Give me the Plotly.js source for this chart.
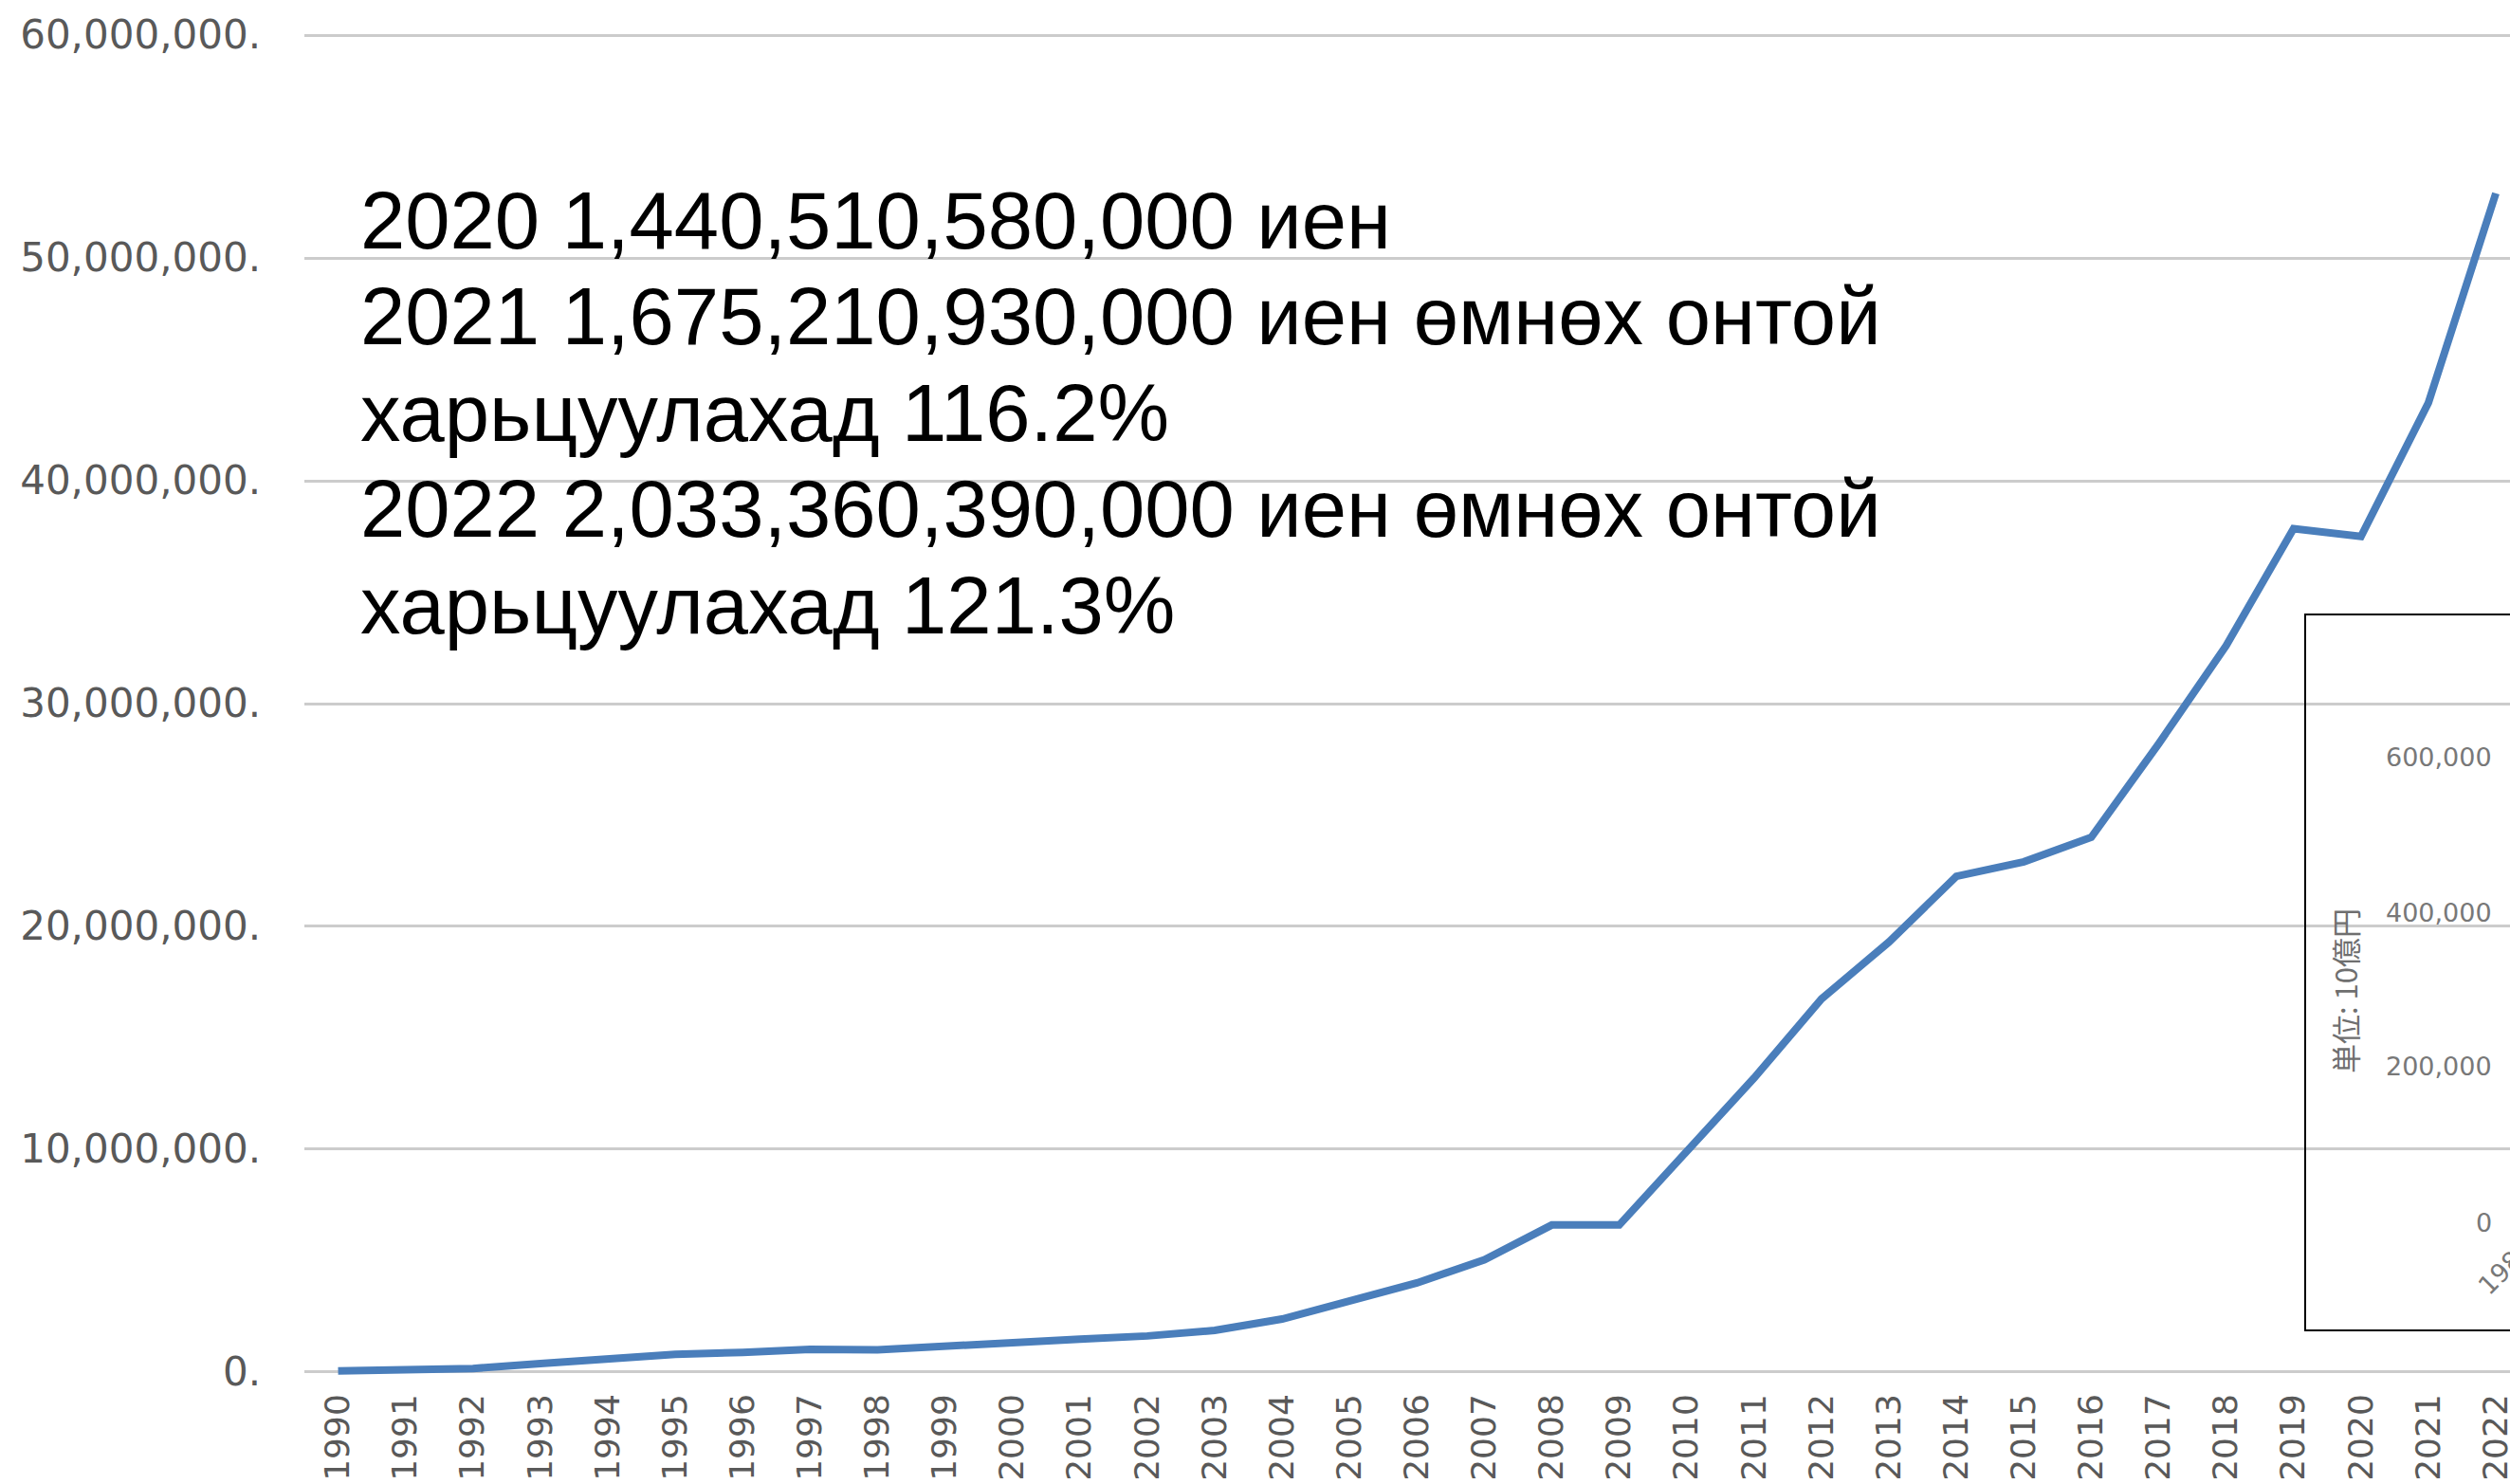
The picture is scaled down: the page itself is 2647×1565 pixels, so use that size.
<!DOCTYPE html>
<html>
<head>
<meta charset="utf-8">
<script src="https://cdn.plot.ly/plotly-3.0.1.min.js"></script>
<style>
  html, body { margin: 0; padding: 0; background: #ffffff; }
  #chart { width: 2647px; height: 1565px; }
</style>
</head>
<body>
<div id="chart"></div>
<script>
// ---- data ----
const years = ['1990','1991','1992','1993','1994','1995','1996','1997','1998','1999',
               '2000','2001','2002','2003','2004','2005','2006','2007','2008','2009',
               '2010','2011','2012','2013','2014','2015','2016','2017','2018','2019',
               '2020','2021','2022'];
const values = [50000, 80000, 160000, 380000, 580000, 800000, 880000, 1020000, 1000000, 1180000,
                1330000, 1480000, 1620000, 1870000, 2380000, 3200000, 4000000, 5040000, 6600000, 6600000,
                9950000, 13200000, 16750000, 19300000, 22250000, 22900000, 24000000, 28200000, 32600000, 37850000,
                37500000, 43500000, 52900000];
const yTickVals = [0, 10000000, 20000000, 30000000, 40000000, 50000000, 60000000];
const yTickText = ['0.', '10,000,000.', '20,000,000.', '30,000,000.', '40,000,000.', '50,000,000.', '60,000,000.'];
const noteLines = [
  '2020 1,440,510,580,000 иен',
  '2021 1,675,210,930,000 иен өмнөх онтой',
  'харьцуулахад 116.2%',
  '2022 2,033,360,390,000 иен өмнөх онтой',
  'харьцуулахад 121.3%'
];
const insetTickText = ['600,000', '400,000', '200,000', '0'];
const insetUnit = '単位: 10億円';
const insetYear = '1980';

// ---- layout helpers (pixel -> paper) ----
const W = 2647, H = 1565;
const L = 321, T = 30, B = 111;
const plotW = W - L, plotH = H - T - B;
const fx = px => (px - L) / plotW;
const fy = py => (H - B - py) / plotH;

const annotations = [];
const noteCenters = [232, 333.5, 435, 536.5, 638];
noteLines.forEach((t, i) => {
  annotations.push({
    xref: 'paper', yref: 'paper', x: fx(378), y: fy(noteCenters[i]),
    xanchor: 'left', yanchor: 'middle', showarrow: false, text: t,
    font: { family: 'Liberation Sans, Arial, sans-serif', size: 85, color: '#000000' }
  });
});
const insetTickY = [799, 962, 1124, 1289];
insetTickText.forEach((t, i) => {
  annotations.push({
    xref: 'paper', yref: 'paper', x: fx(2630), y: fy(insetTickY[i]),
    xanchor: 'right', yanchor: 'middle', showarrow: false, text: t,
    font: { family: 'DejaVu Sans, Verdana, sans-serif', size: 27, color: '#787878' }
  });
});
annotations.push({
  xref: 'paper', yref: 'paper', x: fx(2472), y: fy(1045),
  xanchor: 'center', yanchor: 'middle', showarrow: false, text: insetUnit, textangle: -90,
  font: { family: 'Noto Sans CJK JP, sans-serif', size: 31, color: '#6f6f6f' }
});
annotations.push({
  xref: 'paper', yref: 'paper', x: fx(2642), y: fy(1336),
  xanchor: 'center', yanchor: 'middle', showarrow: false, text: insetYear, textangle: -45,
  font: { family: 'DejaVu Sans, Verdana, sans-serif', size: 27, color: '#787878' }
});

const trace = {
  x: years, y: values, type: 'scatter', mode: 'lines',
  line: { color: '#4a7ebb', width: 8 },
  hoverinfo: 'skip'
};

const layout = {
  width: W, height: H,
  margin: { l: L, r: 0, t: T, b: B, pad: 0 },
  paper_bgcolor: '#ffffff', plot_bgcolor: '#ffffff',
  showlegend: false,
  xaxis: {
    type: 'category',
    range: [-0.5, 32.21],
    showgrid: false, zeroline: false, showline: false,
    ticks: '', tickangle: -90, ticklabelstandoff: 8,
    tickfont: { family: 'DejaVu Sans, Verdana, sans-serif', size: 36, color: '#595959' },
    automargin: false, fixedrange: true
  },
  yaxis: {
    range: [-300000, 60300000],
    tickvals: yTickVals, ticktext: yTickText,
    showgrid: true, gridcolor: '#cccccc', gridwidth: 3,
    zeroline: false, showline: false, ticks: '',
    ticklabelstandoff: 45, ticklabelshift: -1,
    tickfont: { family: 'DejaVu Sans, Verdana, sans-serif', size: 42, color: '#595959' },
    automargin: false, fixedrange: true
  },
  shapes: [{
    type: 'rect', xref: 'paper', yref: 'paper',
    x0: fx(2431), x1: fx(2720), y0: fy(1403), y1: fy(648),
    line: { color: '#000000', width: 2 }, fillcolor: 'rgba(0,0,0,0)', layer: 'above'
  }],
  annotations: annotations
};

Plotly.newPlot('chart', [trace], layout, { staticPlot: true, displayModeBar: false });
</script>
</body>
</html>
